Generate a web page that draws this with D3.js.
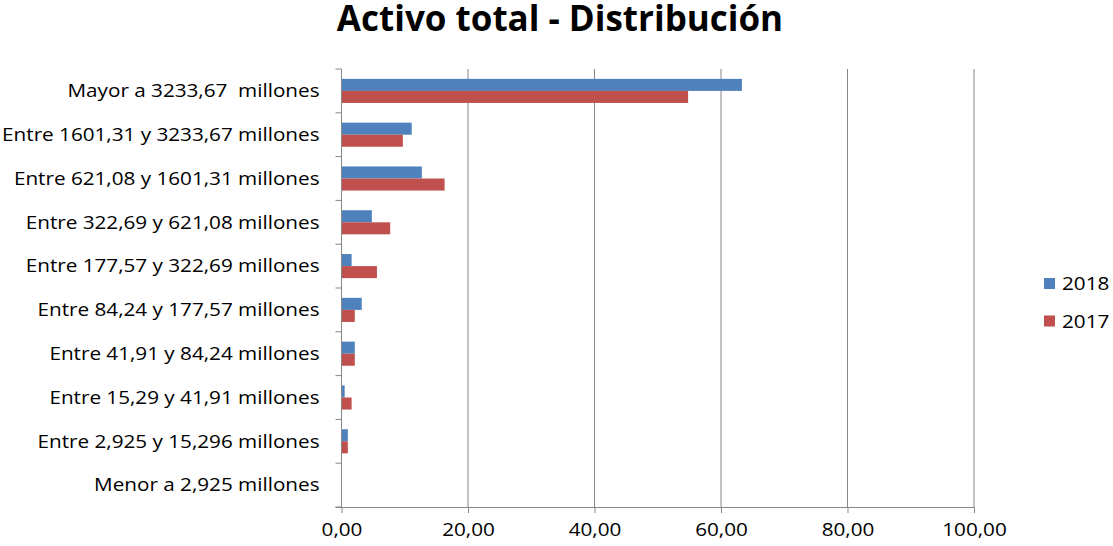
<!DOCTYPE html>
<html><head><meta charset="utf-8">
<script src="https://cdn.jsdelivr.net/npm/d3@7"></script>
<style>body{margin:0;background:#fff}svg{display:block}text{font-family:"Open Sans",sans-serif;fill:#000;white-space:pre}</style>
</head><body><svg id="c" width="1113" height="546"></svg>
<script>
const categories = ["Mayor a 3233,67  millones","Entre 1601,31 y 3233,67 millones","Entre 621,08 y 1601,31 millones","Entre 322,69 y 621,08 millones","Entre 177,57 y 322,69 millones","Entre 84,24 y 177,57 millones","Entre 41,91 y 84,24 millones","Entre 15,29 y 41,91 millones","Entre 2,925 y 15,296 millones","Menor a 2,925 millones"];
const series = ["2018","2017"];
const values2018 = [63.3,11.1,12.7,4.8,1.6,3.2,2.1,0.5,1.0,0];
const values2017 = [54.8,9.7,16.3,7.7,5.6,2.1,2.1,1.6,1.0,0];
const xTicks = [0,20,40,60,80,100];
const colors = ["#4F81BD","#C0504D"];

const SX = 1.15;
const svg = d3.select("#c");
const L=341.5, R=974, T=69, B=507;
const x = d3.scaleLinear().domain([0,100]).range([L,R]);
const y = d3.scaleBand().domain(categories).range([T,B]).paddingInner(0.45).paddingOuter(0.225);
const yb = d3.scaleBand().domain(categories).range([T,B]);
const sub = d3.scaleBand().domain(series).range([0,y.bandwidth()]);

svg.append("text").attr("x",560).attr("y",31).attr("text-anchor","middle")
  .style("font-weight","bold").style("font-size","35px")
  .text("Activo total - Distribución");

// gridlines
svg.append("g").selectAll("line").data(xTicks.slice(1)).join("line")
  .attr("x1",d=>x(d)).attr("x2",d=>x(d)).attr("y1",T).attr("y2",B)
  .attr("stroke","#868686").attr("stroke-width",1);

// bars
const data = categories.map((c,i)=>({c, v:[values2018[i],values2017[i]]}));
const g = svg.append("g");
data.forEach(d=>{
  series.forEach((s,j)=>{
    g.append("rect").attr("x",x(0)).attr("y",y(d.c)+sub(s))
      .attr("width",Math.max(0,x(d.v[j])-x(0))).attr("height",sub.bandwidth())
      .attr("fill",colors[j]);
  });
});

// x axis
const xa = svg.append("g").attr("transform",`translate(0,${B})`)
  .call(d3.axisBottom(x).tickValues(xTicks).tickSize(6).tickPadding(10).tickFormat(d=>d3.format(".2f")(d).replace(".",",")));
xa.select(".domain").attr("stroke","#868686").attr("d",`M${L-6},0.5H${R}`);
xa.selectAll(".tick line").attr("stroke","#868686");
xa.selectAll("text").attr("transform",`scale(${SX},1)`).style("font-size","18px").style("font-family","'Open Sans',sans-serif").attr("fill","#000");

// y axis
const ya = svg.append("g").attr("transform",`translate(${L},0)`);
ya.append("line").attr("x1",0).attr("x2",0).attr("y1",T).attr("y2",B).attr("stroke","#868686");
ya.selectAll("line.t").data(d3.range(categories.length+1)).join("line").attr("class","t")
  .attr("x1",-6).attr("x2",0).attr("y1",i=>T+i*yb.step()).attr("y2",i=>T+i*yb.step()).attr("stroke","#868686");
ya.selectAll("text").data(categories).join("text")
  .attr("transform",d=>`translate(-22,${yb(d)+yb.bandwidth()/2}) scale(${SX},1)`)
  .attr("dy","0.35em").attr("text-anchor","end")
  .style("font-size","18px").text(d=>d);

// legend
const lg = svg.append("g");
series.forEach((s,j)=>{
  lg.append("rect").attr("x",1044).attr("y",278+j*37.5).attr("width",11).attr("height",11).attr("fill",colors[j]);
  lg.append("text").attr("transform",`translate(1062,${284+j*37.5}) scale(${SX},1)`).attr("dy","0.35em").style("font-size","18px").text(s);
});
</script></body></html>
